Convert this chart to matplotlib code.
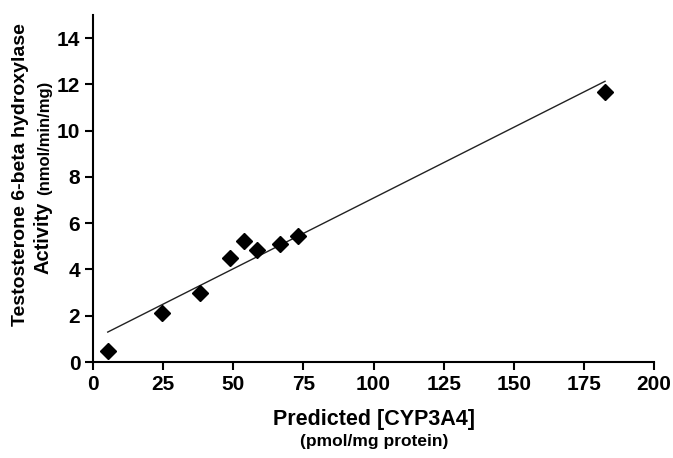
import matplotlib.pyplot as plt

# Predicted CYP3A4 (pmol/mg protein) vs testosterone 6-beta hydroxylase activity
cyp3a4 = [5.3, 24.6, 38.1, 48.8, 53.8, 58.5, 66.7, 73.1, 182.5]
activity = [0.47, 2.1, 2.97, 4.5, 5.25, 4.83, 5.1, 5.43, 11.68]

# regression line
fit_slope = 0.0612
fit_intercept = 0.97
fit_x = [5.3, 182.5]

x_ticks = [0, 25, 50, 75, 100, 125, 150, 175, 200]
y_ticks = [0, 2, 4, 6, 8, 10, 12, 14]

plt.rcParams["font.family"] = ["Liberation Sans", "DejaVu Sans"]

fig = plt.figure(figsize=(6.73, 4.58), dpi=100)
ax = fig.add_axes([0.138, 0.2096, 0.834, 0.7574])

fit_y = [fit_slope * x + fit_intercept for x in fit_x]
ax.plot(fit_x, fit_y, color="#222222", lw=1.0)
ax.plot(cyp3a4, activity, "D", color="black", markersize=8.5, clip_on=False)

ax.set_xlim(0, 200)
ax.set_ylim(0, 15)
ax.set_xticks(x_ticks)
ax.set_yticks(y_ticks)
ax.tick_params(direction="out", length=6, width=1.5, labelsize=15, pad=3)
for label in ax.get_xticklabels() + ax.get_yticklabels():
    label.set_fontweight("bold")
for side in ["top", "right"]:
    ax.spines[side].set_visible(False)
for side in ["left", "bottom"]:
    ax.spines[side].set_linewidth(1.5)

fig.text(0.556, 0.085, "Predicted [CYP3A4]", ha="center", va="center",
         fontsize=15.5, fontweight="bold")
fig.text(0.556, 0.035, "(pmol/mg protein)", ha="center", va="center",
         fontsize=12.5, fontweight="bold")
fig.text(0.030, 0.618, "Testosterone 6-beta hydroxylase", ha="center", va="center",
         rotation=90, fontsize=14, fontweight="bold")
fig.text(0.064, 0.480, "Activity", ha="center", va="center",
         rotation=90, fontsize=14.5, fontweight="bold")
fig.text(0.067, 0.700, "(nmol/min/mg)", ha="center", va="center",
         rotation=90, fontsize=12, fontweight="bold")

fig.savefig("out.png", dpi=100)
